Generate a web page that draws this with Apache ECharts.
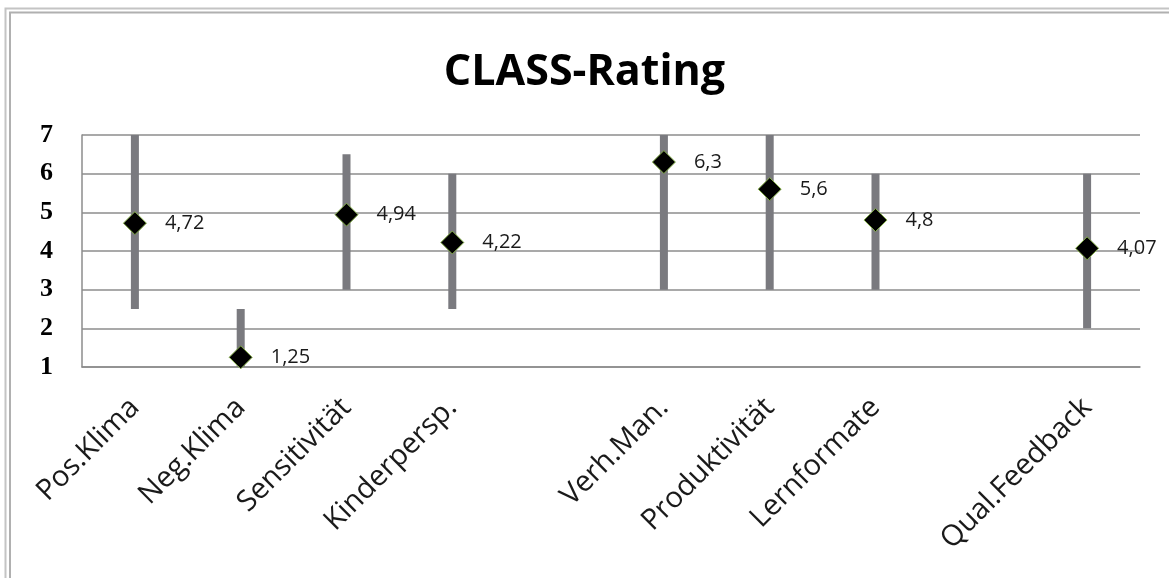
<!DOCTYPE html>
<html>
<head>
<meta charset="utf-8">
<script src="https://cdn.jsdelivr.net/npm/echarts@6/dist/echarts.min.js"></script>
<style>html,body{margin:0;padding:0;background:#fff}#c{width:1169px;height:578px}</style>
</head>
<body>
<div id="c"></div>
<script>
var categories = ['Pos.Klima','Neg.Klima','Sensitivität','Kinderpersp.','','Verh.Man.','Produktivität','Lernformate','','Qual.Feedback'];
var lowValues  = [2.5, 1, 3, 2.5, null, 3, 3, 3, null, 2];
var highValues = [7, 2.5, 6.5, 6, null, 7, 7, 6, null, 6];
var meanValues = [4.72, 1.25, 4.94, 4.22, null, 6.3, 5.6, 4.8, null, 4.07];
var yTicks = [1,2,3,4,5,6,7];

var base = lowValues.map(function(v){ return v == null ? '-' : v; });
var range = highValues.map(function(v,i){ return v == null ? '-' : v - lowValues[i]; });
var means = meanValues.map(function(v){ return v == null ? '-' : v; });

var chart = echarts.init(document.getElementById('c'));
chart.setOption({
  animation: false,
  backgroundColor: '#fff',
  title: {
    text: 'CLASS-Rating', left: 'center', top: 46,
    textStyle: { fontFamily: 'Open Sans', fontWeight: 'bold', fontSize: 43, color: '#000' }
  },
  graphic: [{
    type: 'polyline', silent: true,
    shape: { points: [[5.5, 578], [5.5, 8.5], [1169, 8.5]] },
    style: { stroke: '#c4c4c4', lineWidth: 2, fill: null }
  }, {
    type: 'polyline', silent: true,
    shape: { points: [[10, 578], [10, 12.5], [1169, 12.5]] },
    style: { stroke: '#b0b0b0', lineWidth: 2, fill: null }
  }],
  grid: { left: 82, right: 29, top: 135, bottom: 211 },
  xAxis: {
    type: 'category', data: categories, boundaryGap: true,
    axisLine: { lineStyle: { color: '#8c8c8c', width: 1.5 } },
    axisTick: { show: false },
    axisLabel: { rotate: 45, interval: 0, margin: 36, fontFamily: 'Open Sans', fontSize: 29, color: '#1a1a1a' }
  },
  yAxis: {
    type: 'value', min: 1, max: 7, interval: 1,
    axisLine: { show: true, lineStyle: { color: '#8c8c8c', width: 1.5 } },
    axisTick: { show: false },
    splitLine: { lineStyle: { color: '#8c8c8c', width: 1.5 } },
    axisLabel: {
      margin: 29, fontFamily: 'Liberation Serif', fontWeight: 'bold', fontSize: 26, color: '#000',
      formatter: function(v){ return yTicks.indexOf(v) >= 0 ? String(v) : ''; }
    }
  },
  series: [
    { type: 'bar', stack: 'r', data: base, barWidth: 8, itemStyle: { color: 'transparent' }, silent: true },
    { type: 'bar', stack: 'r', data: range, barWidth: 8, itemStyle: { color: '#7a7a7f' }, silent: true },
    {
      type: 'scatter', data: means, symbol: 'diamond', symbolSize: [23, 23], z: 5,
      itemStyle: { color: '#000', opacity: 1, borderColor: '#86b04a', borderWidth: 1 },
      label: {
        show: true, position: 'right', distance: 18, fontFamily: 'Open Sans', fontSize: 20, color: '#1a1a1a',
        formatter: function(p){ return String(p.value).replace('.', ','); }
      }
    }
  ]
});
</script>
</body>
</html>
